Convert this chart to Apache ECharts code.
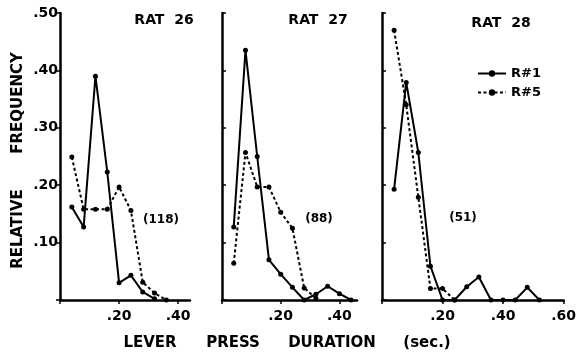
<!DOCTYPE html>
<html>
<head>
<meta charset="utf-8">
<script src="https://cdn.jsdelivr.net/npm/echarts@6/dist/echarts.min.js"></script>
<style>
  html, body { margin: 0; padding: 0; background: #fff; }
  #chart { width: 579px; height: 355px; }
</style>
</head>
<body>
<div id="chart"></div>
<script>
// bin centres (sec.)
var bins = [0.04, 0.08, 0.12, 0.16, 0.20, 0.24, 0.28, 0.32, 0.36, 0.40, 0.44, 0.48, 0.52];
// relative frequency, R#1 = solid, R#5 = dashed
var rat26R1 = [0.162, 0.127, 0.390, 0.223, 0.030, 0.043, 0.014, 0.002];
var rat26R5 = [0.249, 0.158, 0.158, 0.158, 0.197, 0.156, 0.031, 0.012, 0.0];
var rat27R1 = [0.127, 0.435, 0.250, 0.070, 0.045, 0.022, 0.0, 0.010, 0.024, 0.011, 0.0];
var rat27R5 = [0.064, 0.257, 0.197, 0.197, 0.153, 0.125, 0.021, 0.003];
var rat28R1 = [0.193, 0.379, 0.257, 0.059, 0.0, 0.0, 0.023, 0.040, 0.0, 0.0, 0.0, 0.022, 0.0];
var rat28R5 = [0.470, 0.340, 0.179, 0.020, 0.020, 0.0];
var panelTitles = ['RAT  26', 'RAT  27', 'RAT  28'];
var panelN = ['(118)', '(88)', '(51)'];
var xMax = [0.44, 0.46, 0.60];
var yTicks = [0.1, 0.2, 0.3, 0.4, 0.5];

var FONT = 'DejaVu Sans';

function pairs(vals) {
  var out = [];
  for (var i = 0; i < vals.length; i++) out.push([bins[i], vals[i]]);
  return out;
}

function fmt(v) {
  var r = Math.round(v * 100);
  if (r === 0) return '';
  return '.' + (r < 10 ? '0' + r : r);
}

var chart = echarts.init(document.getElementById('chart'));

var grids = [
  { left: 60, top: 13, width: 130, height: 287 },
  { left: 222, top: 13, width: 135, height: 287 },
  { left: 382, top: 13, width: 183, height: 287 }
];

var xAxes = [], yAxes = [];
for (var g = 0; g < 3; g++) {
  xAxes.push({
    type: 'value', gridIndex: g, min: 0, max: xMax[g], interval: 0.2,
    axisLine: { lineStyle: { color: '#000', width: 2.5 } },
    axisTick: { show: true, length: 4, lineStyle: { color: '#000', width: 1.5 } },
    axisLabel: {
      color: '#000', fontFamily: FONT, fontWeight: 'bold', fontSize: 14, margin: 9,
      formatter: fmt, showMaxLabel: g === 2
    },
    splitLine: { show: false }
  });
  yAxes.push({
    type: 'value', gridIndex: g, min: 0, max: 0.5, interval: 0.1,
    axisLine: { show: true, lineStyle: { color: '#000', width: 2.5 } },
    axisTick: { show: true, inside: g !== 0, length: 4, lineStyle: { color: '#000', width: 1.5 } },
    axisLabel: {
      show: g === 0, color: '#000', fontFamily: FONT, fontWeight: 'bold', fontSize: 14, margin: 2,
      formatter: fmt
    },
    splitLine: { show: false }
  });
}

function solid(name, data, idx) {
  return {
    name: name, type: 'line', xAxisIndex: idx, yAxisIndex: idx, data: pairs(data),
    symbol: 'circle', symbolSize: 5, showSymbol: true,
    lineStyle: { color: '#000', width: 2 },
    itemStyle: { color: '#000' },
    z: 3, animation: false
  };
}
function dashed(name, data, idx) {
  return {
    name: name, type: 'line', xAxisIndex: idx, yAxisIndex: idx, data: pairs(data),
    symbol: 'circle', symbolSize: 5, showSymbol: true,
    lineStyle: { color: '#000', width: 2, type: [3, 2.5] },
    itemStyle: { color: '#000' },
    z: 2, animation: false
  };
}

var graphics = [];
var titleX = [164, 318, 501];
var titleY = [20, 20, 23];
var nX = [161, 319, 463];
var nY = [220, 219, 218];
for (var k = 0; k < 3; k++) {
  graphics.push({
    type: 'text', x: titleX[k], y: titleY[k],
    style: { text: panelTitles[k], fill: '#000', font: 'bold 14px ' + FONT, align: 'center', verticalAlign: 'middle' }
  });
  graphics.push({
    type: 'text', x: nX[k], y: nY[k],
    style: { text: panelN[k], fill: '#000', font: 'bold 12px ' + FONT, align: 'center', verticalAlign: 'middle' }
  });
}
// axis titles
var xWords = ['LEVER', 'PRESS', 'DURATION', '(sec.)'];
var xWordX = [150, 233, 332, 427];
for (var w = 0; w < xWords.length; w++) {
  graphics.push({
    type: 'text', x: xWordX[w], y: 343,
    style: { text: xWords[w], fill: '#000', font: 'bold 15px ' + FONT, align: 'center', verticalAlign: 'middle' }
  });
}
var yWords = ['FREQUENCY', 'RELATIVE'];
var yWordY = [103, 229];
for (var q = 0; q < yWords.length; q++) {
  graphics.push({
    type: 'text', x: 18, y: yWordY[q], rotation: Math.PI / 2,
    style: { text: yWords[q], fill: '#000', font: 'bold 15px ' + FONT, align: 'center', verticalAlign: 'middle' }
  });
}

chart.setOption({
  backgroundColor: '#fff',
  animation: false,
  grid: grids,
  xAxis: xAxes,
  yAxis: yAxes,
  legend: {
    orient: 'vertical', left: 472, top: 62, itemWidth: 28, itemHeight: 8, itemGap: 6,
    data: ['R#1', 'R#5'],
    textStyle: { color: '#000', fontFamily: FONT, fontWeight: 'bold', fontSize: 13 },
    selectedMode: false
  },
  graphic: graphics,
  series: [
    solid('R#1', rat26R1, 0), dashed('R#5', rat26R5, 0),
    solid('R#1', rat27R1, 1), dashed('R#5', rat27R5, 1),
    solid('R#1', rat28R1, 2), dashed('R#5', rat28R5, 2)
  ]
});
</script>
</body>
</html>
